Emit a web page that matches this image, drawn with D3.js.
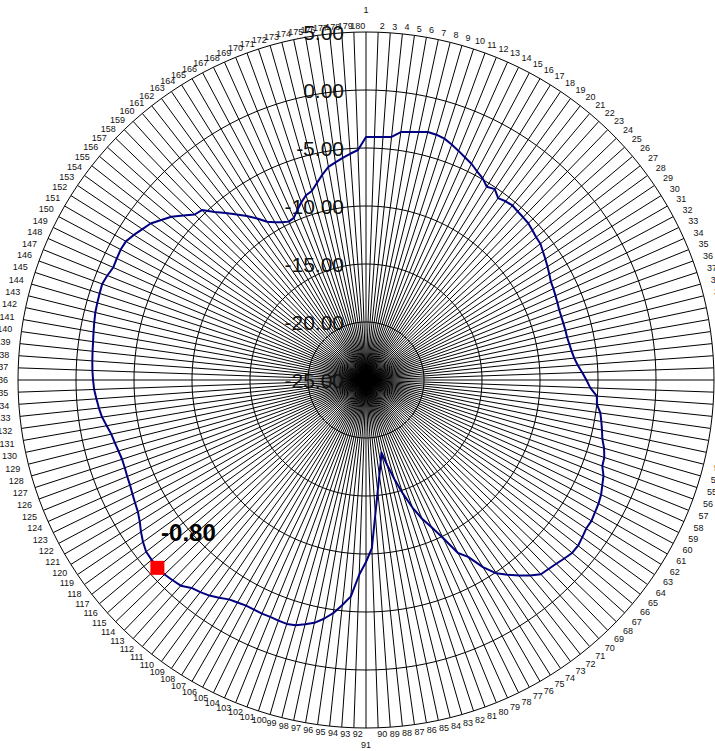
<!DOCTYPE html>
<html>
<head>
<meta charset="utf-8">
<script src="https://cdn.jsdelivr.net/npm/d3@7"></script>
<style>
  html, body { margin: 0; padding: 0; background: #fff; }
  svg { display: block; }
</style>
</head>
<body>
<div id="chart"></div>
<script>
// ---- data ----
const categories = d3.range(1, 181); // 1 .. 180
const values = [
  -4.05, -4.04, -4.00, -3.93, -3.42, -3.29, -3.15, -2.97, -3.00, -3.12,
  -3.40, -3.70, -4.00, -4.26, -4.62, -4.90, -5.35, -5.15, -5.62, -5.45,
  -5.36, -5.45, -5.50, -5.55, -5.70, -5.85, -5.92, -6.15, -6.35, -6.55,
  -6.75, -6.95, -7.03, -7.12, -7.20, -7.28, -7.30, -7.30, -7.28, -7.28,
  -7.20, -7.10, -6.95, -6.70, -6.35, -6.00, -5.65, -5.05, -4.98, -4.60,
  -4.40, -4.20, -4.00, -3.65, -3.40, -3.32, -2.92, -2.70, -2.45, -2.30,
  -2.20, -2.08, -2.10, -1.95, -1.80, -1.80, -2.00, -2.20, -2.35, -2.47,
  -3.00, -3.60, -4.25, -4.90, -5.98, -7.39, -8.11, -9.85, -11.10, -12.10,
  -13.30, -14.70, -16.10, -17.45, -18.60, -17.74, -16.72, -15.35, -13.42, -10.50,
  -9.31, -8.20, -6.30, -5.50, -4.70, -4.10, -3.60, -3.30, -3.00, -2.89,
  -2.93, -2.97, -2.95, -2.98, -2.97, -2.85, -2.70, -2.35, -2.03, -1.80,
  -1.60, -1.14, -1.00, -0.86, -0.80, -0.88, -0.95, -1.24, -1.60, -2.00,
  -2.29, -2.45, -2.60, -2.73, -2.80, -2.87, -2.89, -2.80, -2.68, -2.55,
  -2.30, -2.02, -1.85, -1.70, -1.55, -1.47, -1.40, -1.35, -1.30, -1.24,
  -1.15, -1.05, -0.95, -0.90, -0.85, -0.80, -0.95, -1.15, -1.10, -1.05,
  -1.10, -1.40, -1.75, -2.05, -2.60, -3.10, -3.80, -4.46, -4.64, -5.50,
  -6.20, -6.90, -7.53, -8.20, -8.92, -9.30, -9.60, -9.81, -9.70, -9.20,
  -8.70, -8.26, -8.05, -7.50, -6.90, -6.35, -6.05, -5.75, -5.45, -5.16
];
const ringTicks = [-25, -20, -15, -10, -5, 0, 5];
const ringLabels = ["-25.00", "-20.00", "-15.00", "-10.00", "-5.00", "0.00", "5.00"];
const highlightCategory = 115;
const highlightLabel = "-0.80";

// ---- layout ----
const width = 715, height = 751;
const cx = 366, cy = 380;
const outerR = 348;

const svg = d3.select("#chart").append("svg")
  .attr("width", width)
  .attr("height", height)
  .attr("viewBox", `0 0 ${width} ${height}`);

svg.append("rect").attr("width", width).attr("height", height).attr("fill", "#fff");

const g = svg.append("g").attr("transform", `translate(${cx},${cy})`);

const r = d3.scaleLinear().domain([-25, 5]).range([0, outerR]);
const angle = d3.scaleLinear().domain([0, categories.length]).range([0, 2 * Math.PI]);

// spokes
g.append("g")
  .selectAll("line")
  .data(categories)
  .join("line")
  .attr("x1", 0).attr("y1", 0)
  .attr("x2", (d, i) => r(5) * Math.sin(angle(i)))
  .attr("y2", (d, i) => -r(5) * Math.cos(angle(i)))
  .attr("stroke", "#000")
  .attr("stroke-width", 1);

// rings (180-gons)
const ringLine = (t) => d3.lineRadial()
  .angle((d, i) => angle(i))
  .radius(() => r(t))
  .curve(d3.curveLinearClosed)(categories);

g.append("g")
  .selectAll("path")
  .data(ringTicks.filter(t => t > -25))
  .join("path")
  .attr("d", d => ringLine(d))
  .attr("fill", "none")
  .attr("stroke", "#000")
  .attr("stroke-width", 1);

// value axis labels
g.append("g")
  .selectAll("text")
  .data(ringTicks)
  .join("text")
  .attr("x", -22)
  .attr("y", d => -r(d) + 8)
  .attr("text-anchor", "end")
  .attr("font-family", "'Liberation Sans', Arial, sans-serif")
  .attr("font-size", 21)
  .attr("fill", "#111")
  .text((d, i) => ringLabels[i]);

// category labels: centre placed just outside the outer ring
const labelPos = (d, i) => {
  const a = angle(i);
  const s = Math.sin(a), c = Math.cos(a);
  const w = String(d).length * 5;
  if (Math.abs(s) < 0.001) {
    // straight up / down sit a bit further out
    const rr = outerR + (c > 0 ? 22 : 17);
    return [0, -rr * c];
  }
  const rr = outerR + 6 + Math.abs(s) * (w / 2 + 4);
  return [rr * s + 4 * Math.abs(c), -rr * c];
};

g.append("g")
  .selectAll("text")
  .data(categories)
  .join("text")
  .attr("x", (d, i) => labelPos(d, i)[0])
  .attr("y", (d, i) => labelPos(d, i)[1] + 3.2)
  .attr("text-anchor", "middle")
  .attr("font-family", "'Liberation Sans', Arial, sans-serif")
  .attr("font-size", 9)
  .attr("fill", "#111")
  .text(d => d);

// data line
const line = d3.lineRadial()
  .angle((d, i) => angle(i))
  .radius(d => r(d))
  .curve(d3.curveLinearClosed);

g.append("path")
  .datum(values)
  .attr("d", line)
  .attr("fill", "none")
  .attr("stroke", "#000080")
  .attr("stroke-width", 2)
  .attr("stroke-linejoin", "round");

// highlighted point
const hi = categories.indexOf(highlightCategory);
const hx = r(values[hi]) * Math.sin(angle(hi));
const hy = -r(values[hi]) * Math.cos(angle(hi));

g.append("rect")
  .attr("x", hx - 7).attr("y", hy - 7)
  .attr("width", 14).attr("height", 14)
  .attr("fill", "#ff0000");

g.append("text")
  .attr("x", hx + 31)
  .attr("y", hy - 27)
  .attr("text-anchor", "middle")
  .attr("font-family", "'Liberation Sans', Arial, sans-serif")
  .attr("font-size", 24)
  .attr("font-weight", "bold")
  .attr("fill", "#000")
  .text(highlightLabel);
</script>
</body>
</html>
